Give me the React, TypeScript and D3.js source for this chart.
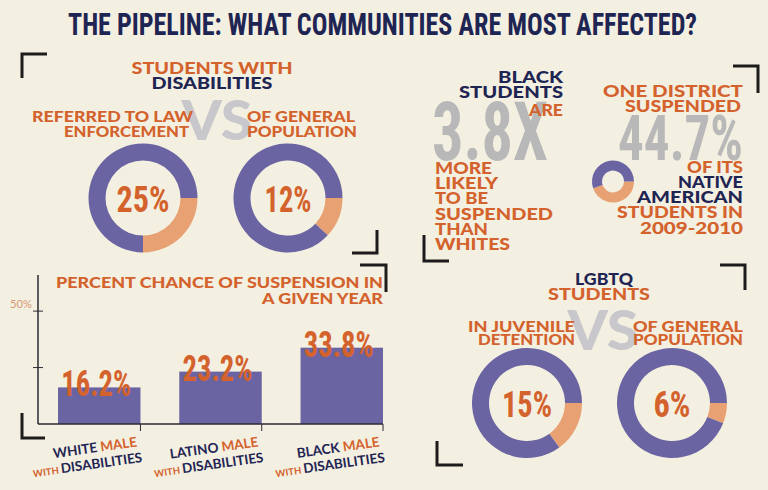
import React from "react";
import * as d3 from "d3";

// ---- data ----
const disabilityLabels = ["REFERRED TO LAW ENFORCEMENT", "OF GENERAL POPULATION"];
const disabilityShares = [25, 12];
const lgbtqLabels = ["IN JUVENILE DETENTION", "OF GENERAL POPULATION"];
const lgbtqShares = [15, 6];
const nativeSuspendedShare = [44.7];
const blackSuspensionRatio = [3.8];
const barCategories = ["WHITE", "LATINO", "BLACK"];
const barValues = [16.2, 23.2, 33.8];
const yTickValues = [25, 50];
const yTickLabels = ["", "50%"];

// ---- style ----
const W = 768;
const H = 490;
const BG = "#f3efe1";
const NAVY = "#1f2553";
const ORANGE = "#d4622c";
const PURPLE = "#6b64a3";
const PEACH = "#e8a172";
const GREY = "#b8b8b8";
const VSGREY = "#c8c8cc";
const SANS = "Lato, 'Open Sans', 'Noto Sans', sans-serif";
const COND = "'Liberation Sans Narrow', 'Roboto Condensed', 'DejaVu Sans Condensed', 'Liberation Sans', Roboto, sans-serif";

type TP = {
  x: number; y: number; s: number; fill: string; anchor?: "start" | "middle" | "end";
  w?: number; fam?: string; weight?: number | string; children: React.ReactNode;
};
function T({ x, y, s, fill, anchor = "start", w, fam = SANS, weight = 900, children }: TP) {
  return (
    <text x={x} y={y} fontSize={s} fill={fill} textAnchor={anchor} fontFamily={fam}
      fontWeight={weight} textLength={w} lengthAdjust={w ? "spacingAndGlyphs" : undefined}>
      {children}
    </text>
  );
}

function Donut({ cx, cy, r0, r1, value, label, labelW, labelSize = 37, labelDy = 14 }:
  { cx: number; cy: number; r0: number; r1: number; value: number; label?: string; labelW?: number; labelSize?: number; labelDy?: number }) {
  const pie = d3.pie<number>().sort(null).value((d) => d)
    .startAngle(Math.PI / 2).endAngle(Math.PI / 2 + 2 * Math.PI);
  const arcs = pie([value, 100 - value]);
  const arc = d3.arc<d3.PieArcDatum<number>>().innerRadius(r0).outerRadius(r1);
  return (
    <g transform={`translate(${cx},${cy})`}>
      {arcs.map((a, i) => (
        <path key={i} d={arc(a) || ""} fill={i === 0 ? PEACH : PURPLE} />
      ))}
      {label && (
        <T x={0} y={labelDy} s={labelSize} fill={ORANGE} anchor="middle" w={labelW} fam={COND} weight={700}>{label}</T>
      )}
    </g>
  );
}

function Bracket({ d }: { d: string }) {
  return <path d={d} fill="none" stroke="#1c1c1c" strokeWidth={3} />;
}

function BarChart() {
  const x = d3.scaleBand<string>().domain(barCategories).range([58, 383]).paddingInner(0.32).paddingOuter(0);
  const y = d3.scaleLinear().domain([0, 66]).range([424, 275]);
  const x0 = 38;
  return (
    <g>
      {barCategories.map((c, i) => {
        const bx = x(c)!;
        const bw = x.bandwidth();
        const v = barValues[i];
        return (
          <g key={c}>
            <rect x={bx} y={y(v)} width={bw} height={y(0) - y(v)} fill={PURPLE} />
          </g>
        );
      })}
      {/* axes */}
      <line x1={x0} x2={x0} y1={y(66)} y2={y(0)} stroke="#2a2a35" strokeWidth={1.5} />
      <line x1={x0} x2={x.range()[1]} y1={y(0)} y2={y(0)} stroke="#2a2a35" strokeWidth={1.5} />
      {barCategories.map((c) => (
        <line key={c} x1={x(c)! + x.bandwidth()} x2={x(c)! + x.bandwidth()} y1={y(0)} y2={y(0) + 7}
          stroke="#2a2a35" strokeWidth={1} />
      ))}
      {yTickValues.map((t, i) => (
        <g key={t}>
          <line x1={x0 - 5} x2={x0 + 5} y1={y(t)} y2={y(t)} stroke="#2a2a35" strokeWidth={1} />
          {yTickLabels[i] && (
            <T x={x0 - 6} y={y(t) - 3} s={11} fill="#d89a72" anchor="end" weight={400} w={22}>{yTickLabels[i]}</T>
          )}
        </g>
      ))}
      {/* value labels */}
      {barCategories.map((c, i) => {
        const v = barValues[i];
        return (
          <T key={c} x={x(c)! + x.bandwidth() / 2 - 3} y={y(v) + 9} s={37} fill={ORANGE} anchor="middle"
            fam={COND} weight={700} w={70}>{`${v}%`}</T>
        );
      })}
      {/* category labels */}
      {barCategories.map((c) => {
        const xr = x(c)! + x.bandwidth();
        return (
          <g key={c} transform={`translate(${xr},446) rotate(-8)`}>
            <text x={-3} y={0} textAnchor="end" fontFamily={SANS} fontWeight={700} fontSize={13.5}>
              <tspan fill={NAVY}>{c}</tspan>
              <tspan fill={ORANGE}> MALE</tspan>
            </text>
            <text x={0} y={16} textAnchor="end" fontFamily={SANS} fontWeight={700}>
              <tspan fill={ORANGE} fontSize={9.5}>WITH </tspan>
              <tspan fill={NAVY} fontSize={13.5}>DISABILITIES</tspan>
            </text>
          </g>
        );
      })}
      {/* title */}
      <T x={383} y={288} s={15} fill={ORANGE} anchor="end" w={327}>PERCENT CHANCE OF SUSPENSION IN</T>
      <T x={383} y={304} s={15} fill={ORANGE} anchor="end" w={121}>A GIVEN YEAR</T>
    </g>
  );
}

export default function App() {
  return (
    <svg width={W} height={H} viewBox={`0 0 ${W} ${H}`}
      style={{ position: "absolute", left: 0, top: 0, display: "block" }}>
      <rect width={W} height={H} fill={BG} />

      {/* title */}
      <T x={68} y={35} s={31} fill={NAVY} w={629} fam={COND} weight={700}>
        THE PIPELINE: WHAT COMMUNITIES ARE MOST AFFECTED?
      </T>

      {/* brackets */}
      <Bracket d="M47,54 L22,54 L22,78" />
      <Bracket d="M377,230 L377,253 L352,253" />
      <Bracket d="M360,265 L386,265 L386,292" />
      <Bracket d="M22,413 L22,438 L45,438" />
      <Bracket d="M733,66 L758,66 L758,93" />
      <Bracket d="M424,235 L424,261 L449,261" />
      <Bracket d="M720,265 L745,265 L745,290" />
      <Bracket d="M437,441 L437,465 L463,465" />

      {/* ---- students with disabilities ---- */}
      <T x={217} y={140} s={56} fill={VSGREY} anchor="middle" w={71}>VS</T>
      <T x={212} y={74} s={16} fill={ORANGE} anchor="middle" w={161}>STUDENTS WITH</T>
      <T x={212} y={89} s={16} fill={NAVY} anchor="middle" w={121}>DISABILITIES</T>
      <T x={193} y={122} s={15} fill={ORANGE} anchor="end" w={161}>REFERRED TO LAW</T>
      <T x={189} y={137} s={15} fill={ORANGE} anchor="end" w={125}>ENFORCEMENT</T>
      <T x={247} y={122} s={15} fill={ORANGE} w={108}>OF GENERAL</T>
      <T x={247} y={137} s={15} fill={ORANGE} w={110}>POPULATION</T>
      <Donut cx={143} cy={198} r0={37.5} r1={54.5} value={disabilityShares[0]} label={`${disabilityShares[0]}%`} labelW={53} />
      <Donut cx={288} cy={198} r0={37.5} r1={54.5} value={disabilityShares[1]} label={`${disabilityShares[1]}%`} labelW={47} />

      {/* ---- black students ---- */}
      <T x={432} y={160} s={81} fill={GREY} w={116} fam={COND} weight={700}>{`${blackSuspensionRatio[0]}X`}</T>
      <T x={563} y={83} s={17} fill={NAVY} anchor="end" w={65}>BLACK</T>
      <T x={563} y={98} s={17} fill={NAVY} anchor="end" w={104}>STUDENTS</T>
      <T x={563} y={116} s={17} fill={ORANGE} anchor="end" w={34}>ARE</T>
      {[["MORE", 57], ["LIKELY", 63], ["TO BE", 53], ["SUSPENDED", 118], ["THAN", 53], ["WHITES", 75]].map(([t, w], i) => (
        <T key={String(t)} x={435} y={174 + i * 15.2} s={17} fill={ORANGE} w={w as number}>{t}</T>
      ))}

      {/* ---- native american ---- */}
      <T x={743} y={97} s={17} fill={ORANGE} anchor="end" w={140}>ONE DISTRICT</T>
      <T x={741} y={112} s={17} fill={ORANGE} anchor="end" w={116}>SUSPENDED</T>
      <T x={618} y={160} s={63} fill={GREY} w={125} fam={COND} weight={700}>{`${nativeSuspendedShare[0]}%`}</T>
      <Donut cx={613} cy={181.5} r0={11} r1={21} value={nativeSuspendedShare[0]} />
      <T x={743} y={173} s={17} fill={ORANGE} anchor="end" w={56}>OF ITS</T>
      <T x={743} y={188} s={17} fill={NAVY} anchor="end" w={65}>NATIVE</T>
      <T x={743} y={203} s={17} fill={NAVY} anchor="end" w={106}>AMERICAN</T>
      <T x={743} y={218} s={17} fill={ORANGE} anchor="end" w={126}>STUDENTS IN</T>
      <T x={743} y={234} s={17} fill={ORANGE} anchor="end" w={103}>2009-2010</T>

      {/* ---- LGBTQ ---- */}
      <T x={603} y={350} s={56} fill={VSGREY} anchor="middle" w={71}>VS</T>
      <T x={604} y={285} s={16} fill={NAVY} anchor="middle" w={58}>LGBTQ</T>
      <T x={599} y={300} s={16} fill={ORANGE} anchor="middle" w={102}>STUDENTS</T>
      <T x={575} y={332} s={15} fill={ORANGE} anchor="end" w={107}>IN JUVENILE</T>
      <T x={575} y={345} s={15} fill={ORANGE} anchor="end" w={97}>DETENTION</T>
      <T x={633} y={332} s={15} fill={ORANGE} w={110}>OF GENERAL</T>
      <T x={633} y={345} s={15} fill={ORANGE} w={110}>POPULATION</T>
      <Donut cx={527} cy={403} r0={38} r1={55} value={lgbtqShares[0]} label={`${lgbtqShares[0]}%`} labelW={50} />
      <Donut cx={672} cy={403} r0={38} r1={55} value={lgbtqShares[1]} label={`${lgbtqShares[1]}%`} labelW={37} />

      <BarChart />
    </svg>
  );
}
